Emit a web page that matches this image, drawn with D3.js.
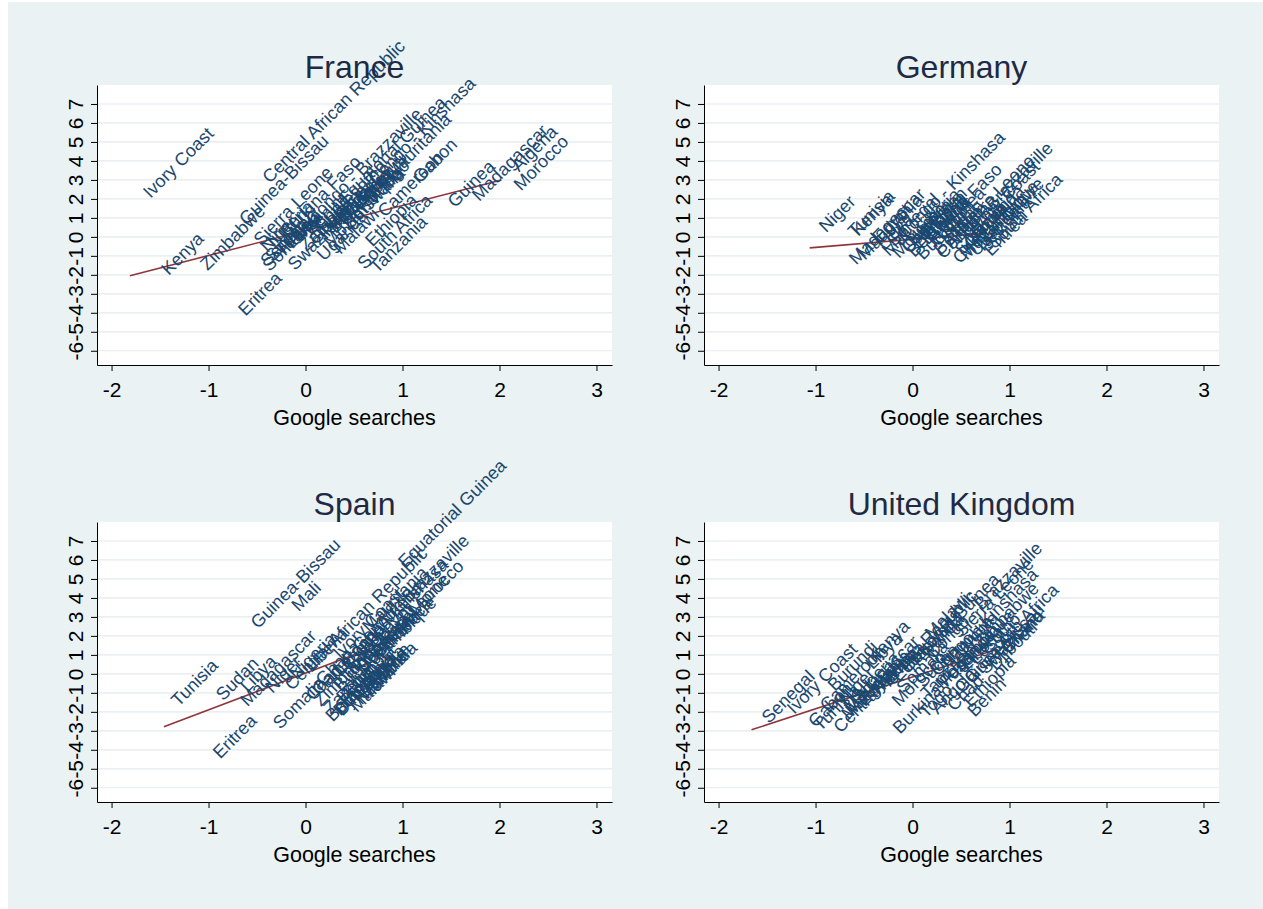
<!doctype html>
<html>
<head>
<meta charset="utf-8">
<script src="https://d3js.org/d3.v7.min.js"></script>
<style>
  body { margin: 0; background: #fff; }
  text { font-family: "Liberation Sans", Arial, Helvetica, sans-serif; }
</style>
</head>
<body>
<svg width="1263" height="909"></svg>
<script>
// tick values shared by all four panels
var xTicks = [-2, -1, 0, 1, 2, 3];
var yTicks = [-6, -5, -4, -3, -2, -1, 0, 1, 2, 3, 4, 5, 6, 7];

// [country, google searches, y value]
var france = [
  ["Ivory Coast", -1.66, 2.15], ["Kenya", -1.47, -1.9], ["Zimbabwe", -1.07, -1.65],
  ["Guinea-Bissau", -0.67, 0.75], ["Central African Republic", -0.43, 2.95],
  ["Eritrea", -0.68, -4.05], ["Guinea", 1.48, 1.65], ["Madagascar", 1.73, 2.0],
  ["Algeria", 2.14, 3.55], ["Morocco", 2.16, 2.55],
  ["Senegal", -0.45, -1.45], ["Somalia", -0.43, -1.7], ["Sudan", -0.4, -1.2],
  ["Sierra Leone", -0.52, -0.35], ["Niger", -0.45, -0.7], ["Nigeria", -0.38, -0.45],
  ["Swaziland", -0.17, -1.65], ["Zambia", -0.05, -0.65], ["Tunisia", -0.3, -0.9],
  ["Libya", -0.2, -0.5], ["Mali", -0.1, -0.1], ["Benin", 0.0, 0.2],
  ["Burkina Faso", -0.25, 0.1], ["Chad", 0.1, 0.4], ["Ghana", 0.05, -0.3],
  ["Liberia", 0.2, 0.55], ["Rwanda", 0.15, 0.0], ["Burundi", 0.25, 0.3],
  ["Malawi", 0.3, -0.8], ["Mozambique", 0.2, -0.45], ["Uganda", 0.13, -1.15],
  ["Namibia", 0.35, 0.9], ["Botswana", 0.4, 0.5], ["Angola", 0.45, 1.2],
  ["Egypt", 0.5, 1.6], ["Djibouti", 0.55, 1.9], ["Lesotho", 0.32, 1.4],
  ["Congo - Brazzaville", 0.02, 0.75], ["Congo - Kinshasa", 0.66, 2.85],
  ["Mauritania", 0.84, 3.15], ["Gabon", 1.12, 2.95], ["Togo", 0.74, 2.4],
  ["Cameroon", 0.76, 1.15], ["Ethiopia", 0.63, -0.4], ["South Africa", 0.55, -1.6],
  ["Tanzania", 0.68, -1.8], ["Equatorial Guinea", 0.35, 1.8]
];
var germany = [
  ["Niger", -0.95, 0.35], ["Tunisia", -0.65, 0.1], ["Kenya", -0.62, 0.15],
  ["Madagascar", -0.64, -1.35], ["Mauritania", -0.55, -1.1], ["Egypt", -0.4, -0.2],
  ["Congo - Kinshasa", -0.14, 0.0], ["Libya", -0.35, -0.6], ["Mali", -0.3, -0.9],
  ["Morocco", -0.2, -1.0], ["Senegal", -0.25, -0.4], ["Nigeria", -0.05, -0.35],
  ["Cameroon", -0.1, -0.75], ["Ethiopia", 0.0, -0.5], ["Botswana", -0.04, -0.95],
  ["Burundi", 0.05, -1.1], ["Burkina Faso", 0.1, -0.3], ["Benin", 0.23, -0.85],
  ["Gabon", 0.2, -0.4], ["Ghana", 0.15, -0.15], ["Algeria", 0.1, 0.1],
  ["Congo - Brazzaville", 0.26, -1.05], ["Sierra Leone", 0.46, 0.26], ["Togo", 0.4, 0.0],
  ["Chad", 0.43, -1.3], ["Zambia", 0.5, -0.6], ["Namibia", 0.55, -0.3],
  ["Angola", 0.35, -0.5], ["Uganda", 0.6, -0.9], ["Rwanda", 0.62, 0.05],
  ["Tanzania", 0.65, -0.75], ["Zimbabwe", 0.7, -0.2], ["South Africa", 0.79, -0.5],
  ["Sudan", 0.3, -0.2], ["Somalia", 0.45, -0.85], ["Guinea", 0.28, 0.25],
  ["Liberia", 0.05, 0.3], ["Mozambique", 0.5, -1.1], ["Eritrea", 0.75, -0.9],
  ["Ivory Coast", 0.6, 0.4]
];
var spain = [
  ["Tunisia", -1.37, -1.6], ["Sudan", -0.91, -1.3], ["Eritrea", -0.94, -4.35],
  ["Libya", -0.66, -0.85], ["Madagascar", -0.66, -1.6], ["Guinea-Bissau", -0.55, 2.5],
  ["Mali", -0.13, 3.4], ["Somalia", -0.32, -2.8], ["Equatorial Guinea", 0.97, 5.7],
  ["Morocco", 1.08, 3.2], ["Niger", -0.4, -0.9], ["Nigeria", -0.15, -0.2],
  ["Liberia", 0.0, 0.2], ["Cameroon", 0.08, -1.0], ["Chad", 0.02, -1.3],
  ["Ghana", 0.12, -0.5], ["Zimbabwe", 0.1, -1.6], ["Zambia", 0.2, -2.0],
  ["Burundi", 0.22, -2.4], ["Botswana", 0.3, -2.1], ["Benin", 0.33, -1.4],
  ["Burkina Faso", 0.3, -0.8], ["Togo", 0.38, -0.3], ["Gabon", 0.42, 0.3],
  ["Ethiopia", 0.4, -1.1], ["Malawi", 0.47, -1.9], ["Mozambique", 0.55, 0.0],
  ["Tanzania", 0.35, -1.75], ["Djibouti", 0.32, -2.1], ["Namibia", 0.52, -1.5],
  ["Angola", 0.57, -0.8], ["Uganda", 0.55, -1.2], ["Rwanda", 0.62, -1.0],
  ["Kenya", 0.66, -0.5], ["Senegal", 0.6, 0.6], ["Sierra Leone", 0.68, 1.2],
  ["South Africa", 0.55, 0.2], ["Egypt", 0.72, 1.8], ["Algeria", 0.75, 2.5],
  ["Congo - Kinshasa", 0.38, 0.5], ["Congo - Brazzaville", 0.5, 1.3],
  ["Central African Republic", -0.2, -0.75], ["Ivory Coast", 0.3, 0.9],
  ["Mauritania", 0.6, 2.3], ["Guinea", 0.7, 0.9], ["Lesotho", 0.3, 0.0]
];
var uk = [
  ["Senegal", -1.54, -2.5], ["Ivory Coast", -1.28, -2.0], ["Burundi", -0.86, -0.8],
  ["Kenya", -0.45, 0.7], ["Gabon", -1.06, -2.7], ["Cameroon", -0.94, -1.85],
  ["Libya", -0.47, 0.35], ["Tunisia", -1.01, -2.9], ["Burkina Faso", -0.19, -3.05],
  ["Chad", 0.37, -1.85], ["Ethiopia", 0.54, -1.65], ["Benin", 0.58, -2.15],
  ["Ghana", 0.92, 1.15], ["Zimbabwe", 0.65, 1.5], ["Sierra Leone", 0.45, 2.05],
  ["Malawi", 0.14, 1.95], ["Madagascar", -0.7, -1.9], ["Mali", -0.72, -2.3],
  ["Mauritania", -0.68, -2.1], ["Niger", -0.75, -1.5], ["Nigeria", -0.6, -1.2],
  ["Egypt", -0.55, -1.6], ["Morocco", -0.2, -1.6], ["Algeria", -0.4, -0.9],
  ["Botswana", -0.1, 0.2], ["Rwanda", 0.0, 0.5], ["Eritrea", -0.3, -0.5],
  ["Somalia", -0.15, -0.9], ["Sudan", 0.05, -0.6], ["Tanzania", 0.1, -1.2],
  ["Togo", 0.08, -2.2], ["Angola", 0.2, -2.0], ["Mozambique", 0.25, -0.7],
  ["Namibia", 0.3, 0.4], ["Uganda", 0.35, -0.2], ["Zambia", 0.4, 0.8],
  ["Congo - Kinshasa", 0.2, 0.0], ["Congo - Brazzaville", 0.15, 0.9],
  ["Central African Republic", -0.8, -3.0], ["Equatorial Guinea", -0.2, -0.3],
  ["Liberia", 0.5, 0.3], ["Guinea", 0.55, -0.4], ["Guinea-Bissau", 0.45, -0.9],
  ["Lesotho", 0.6, 0.6], ["Swaziland", 0.7, 0.1], ["South Africa", 0.75, 0.9],
  ["Djibouti", 0.8, 0.3]
];

// fitted line end points [[x0, y0], [x1, y1]]
var fitFrance = [[-1.81, -2.05], [2.02, 3.0]];
var fitGermany = [[-1.06, -0.58], [0.77, 0.2]];
var fitSpain = [[-1.46, -2.79], [0.99, 1.95]];
var fitUK = [[-1.66, -2.95], [0.87, 1.3]];

var panels = [
  { title: "France", pts: france, fit: fitFrance, left: 97, top: 85 },
  { title: "Germany", pts: germany, fit: fitGermany, left: 704, top: 85 },
  { title: "Spain", pts: spain, fit: fitSpain, left: 97, top: 522 },
  { title: "United Kingdom", pts: uk, fit: fitUK, left: 704, top: 522 }
];

var pw = 515, ph = 280;
var svg = d3.select("svg");

svg.append("rect")
   .attr("x", 8).attr("y", 2)
   .attr("width", 1255).attr("height", 907)
   .attr("fill", "#eaf2f3");

panels.forEach(function(p) {
    var g = svg.append("g").attr("transform", "translate(" + p.left + "," + p.top + ")");

    var x = d3.scaleLinear().domain([-2.15, 3.16]).range([0, pw]);
    var y = d3.scaleLinear().domain([-6.75, 8]).range([ph, 0]);

    g.append("rect").attr("width", pw).attr("height", ph).attr("fill", "#fff");

    // horizontal grid lines
    g.selectAll(".grid")
     .data(yTicks)
     .enter()
     .append("line")
     .attr("x1", 0).attr("x2", pw)
     .attr("y1", function(d) { return y(d); })
     .attr("y2", function(d) { return y(d); })
     .attr("stroke", "#e3eaed")
     .attr("stroke-width", 1.2);

    // x axis
    var xa = g.append("g")
     .attr("transform", "translate(0," + ph + ")")
     .call(d3.axisBottom(x).tickValues(xTicks).tickSize(6).tickSizeOuter(0)
           .tickFormat(function(d) { return String(d); }));
    xa.selectAll("text")
      .attr("y", 17).attr("dy", "0.71em")
      .attr("font-size", "21px").attr("fill", "#000")
      .attr("font-family", "Liberation Sans, Arial, sans-serif");

    g.append("text")
     .attr("x", pw / 2).attr("y", ph + 60)
     .attr("text-anchor", "middle")
     .attr("font-size", "21.5px")
     .text("Google searches");

    // y axis, labels turned to read upwards
    var ya = g.append("g")
     .call(d3.axisLeft(y).tickValues(yTicks).tickSize(6).tickSizeOuter(0)
           .tickFormat(function(d) { return String(d); }));
    ya.selectAll("text")
      .attr("transform", "rotate(-90)")
      .attr("x", 0).attr("y", -14).attr("dy", 0)
      .attr("text-anchor", "middle")
      .attr("font-size", "21px").attr("fill", "#000")
      .attr("font-family", "Liberation Sans, Arial, sans-serif");

    xa.select(".domain").attr("stroke", "#000");
    ya.select(".domain").attr("stroke", "#000");

    // fitted line
    g.append("line")
     .attr("x1", x(p.fit[0][0])).attr("y1", y(p.fit[0][1]))
     .attr("x2", x(p.fit[1][0])).attr("y2", y(p.fit[1][1]))
     .attr("stroke", "#90353b")
     .attr("stroke-width", 1.6);

    // country labels at 45 degrees
    g.selectAll(".lab")
     .data(p.pts)
     .enter()
     .append("text")
     .attr("transform", function(d) {
         return "translate(" + x(d[1]) + "," + y(d[2]) + ") rotate(-45)";
     })
     .attr("dx", 2)
     .attr("dy", "0.35em")
     .attr("font-size", "18px")
     .attr("fill", "#1a476f")
     .text(function(d) { return d[0]; });

    g.append("text")
     .attr("x", pw / 2).attr("y", -7)
     .attr("text-anchor", "middle")
     .attr("font-size", "32px")
     .attr("fill", "#1e2a44")
     .text(p.title);
});
</script>
</body>
</html>
